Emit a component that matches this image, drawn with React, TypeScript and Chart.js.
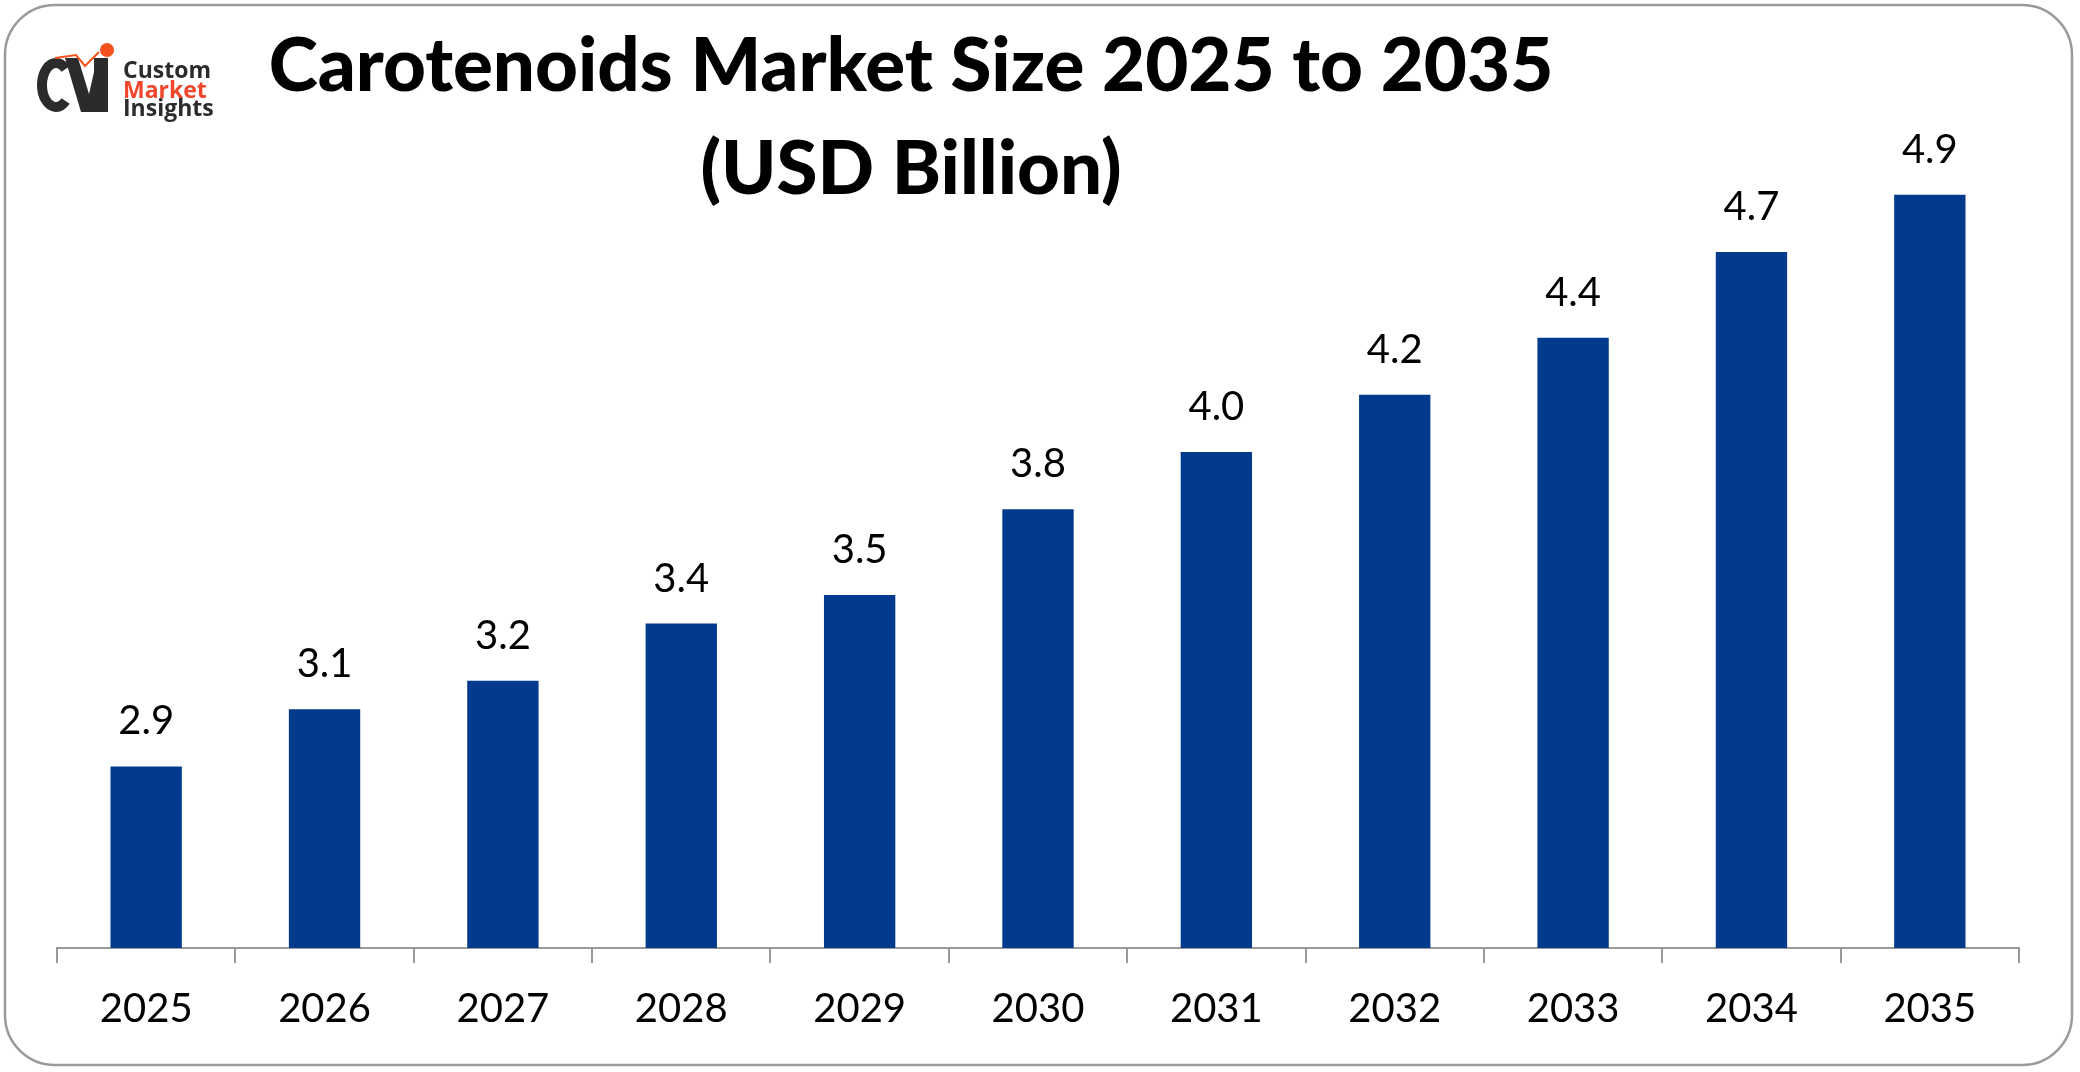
import React, { useEffect, useRef } from "react";
import { Chart, registerables } from "chart.js";

Chart.register(...registerables);

// Market size by year, USD billion
const years = ["2025", "2026", "2027", "2028", "2029", "2030", "2031", "2032", "2033", "2034", "2035"];
const marketSize = [2.9, 3.1, 3.2, 3.4, 3.5, 3.8, 4.0, 4.2, 4.4, 4.7, 4.9];
const valueLabels = ["2.9", "3.1", "3.2", "3.4", "3.5", "3.8", "4.0", "4.2", "4.4", "4.7", "4.9"];
const titleLines = ["Carotenoids Market Size 2025 to 2035", "(USD Billion)"];
const logoWords = ["Custom", "Market", "Insights"];

const BAR_COLOR = "#023A8D";
const FONT = "Lato, 'Open Sans', sans-serif";

// Rounded frame around the whole card
const framePlugin = {
  id: "frame",
  beforeDraw(chart: Chart) {
    const ctx = chart.ctx;
    ctx.save();
    ctx.fillStyle = "#ffffff";
    ctx.fillRect(0, 0, chart.width, chart.height);
    ctx.beginPath();
    ctx.roundRect(5, 5, 2067, 1060, 50);
    ctx.strokeStyle = "#9a9a9a";
    ctx.lineWidth = 2.5;
    ctx.stroke();
    ctx.restore();
  },
};

// Two-line heading plus brand mark
const headerPlugin = {
  id: "header",
  afterDraw(chart: Chart) {
    const ctx = chart.ctx;
    ctx.save();
    ctx.fillStyle = "#000000";
    ctx.textAlign = "center";
    ctx.textBaseline = "alphabetic";
    ctx.font = `900 100px ${FONT}`;
    const w = ctx.measureText(titleLines[0]).width;
    const size = (100 * 1285) / w;
    ctx.font = `900 ${size}px ${FONT}`;
    ctx.fillText(titleLines[0], 911, 91);
    ctx.fillText(titleLines[1], 911, 194);

    // brand mark: C
    const dark = "#2b2b2d";
    const orange = "#F4511E";
    ctx.strokeStyle = dark;
    ctx.lineWidth = 10;
    ctx.beginPath();
    ctx.ellipse(56, 85, 14, 22, 0, 0.26 * Math.PI, 1.74 * Math.PI);
    ctx.stroke();
    // V and I strokes
    ctx.fillStyle = dark;
    ctx.beginPath();
    ctx.moveTo(65, 58);
    ctx.lineTo(78, 58);
    ctx.lineTo(89, 94);
    ctx.lineTo(94, 72);
    ctx.lineTo(94, 112);
    ctx.lineTo(81, 112);
    ctx.closePath();
    ctx.fill();
    ctx.fillRect(94, 58, 14, 54);
    // orange tick line and dot
    ctx.strokeStyle = orange;
    ctx.lineWidth = 2;
    ctx.beginPath();
    ctx.moveTo(55, 58);
    ctx.lineTo(76, 55);
    ctx.lineTo(85, 66);
    ctx.lineTo(99, 52);
    ctx.stroke();
    ctx.fillStyle = orange;
    ctx.beginPath();
    ctx.arc(107, 50, 7, 0, Math.PI * 2);
    ctx.fill();

    ctx.textAlign = "left";
    ctx.font = `bold 23px 'Open Sans', sans-serif`;
    ctx.fillStyle = dark;
    ctx.fillText(logoWords[0], 123, 78);
    ctx.fillStyle = "#F2452B";
    ctx.fillText(logoWords[1], 123, 98);
    ctx.fillStyle = dark;
    ctx.fillText(logoWords[2], 123, 116);
    ctx.restore();
  },
};

// Value written above each bar
const valueLabelPlugin = {
  id: "valueLabels",
  afterDatasetsDraw(chart: Chart) {
    const ctx = chart.ctx;
    const meta = chart.getDatasetMeta(0);
    ctx.save();
    ctx.fillStyle = "#000000";
    ctx.font = `40px ${FONT}`;
    ctx.textAlign = "center";
    ctx.textBaseline = "alphabetic";
    meta.data.forEach((bar: any, i: number) => {
      ctx.fillText(valueLabels[i], bar.x, bar.y - 32);
    });
    ctx.restore();
  },
};

export default function App() {
  const canvasRef = useRef<HTMLCanvasElement | null>(null);

  useEffect(() => {
    if (!canvasRef.current) return;
    const chart = new Chart(canvasRef.current, {
      type: "bar",
      data: {
        labels: years,
        datasets: [
          {
            data: marketSize,
            backgroundColor: BAR_COLOR,
            barPercentage: 0.4,
            categoryPercentage: 1.0,
          },
        ],
      },
      options: {
        animation: false,
        responsive: false,
        devicePixelRatio: 1,
        layout: { padding: { top: 109, left: 57, right: 61, bottom: 17 } },
        plugins: {
          legend: { display: false },
          tooltip: { enabled: false },
          title: { display: false },
        },
        scales: {
          x: {
            grid: {
              offset: true,
              drawOnChartArea: false,
              drawTicks: true,
              tickLength: 15,
              color: "#9a9a9a",
              lineWidth: 2,
            },
            border: { display: true, color: "#9a9a9a", width: 2 },
            ticks: {
              color: "#000000",
              padding: 22,
              font: { family: FONT, size: 40 },
            },
          },
          y: {
            display: false,
            min: 2.265,
            max: 5.2,
          },
        },
      },
      plugins: [framePlugin, headerPlugin, valueLabelPlugin],
    });
    return () => chart.destroy();
  }, []);

  return (
    <div style={{ position: "fixed", left: 0, top: 0, width: 2080, height: 1072, background: "#fff" }}>
      <canvas ref={canvasRef} width={2080} height={1072} />
    </div>
  );
}
